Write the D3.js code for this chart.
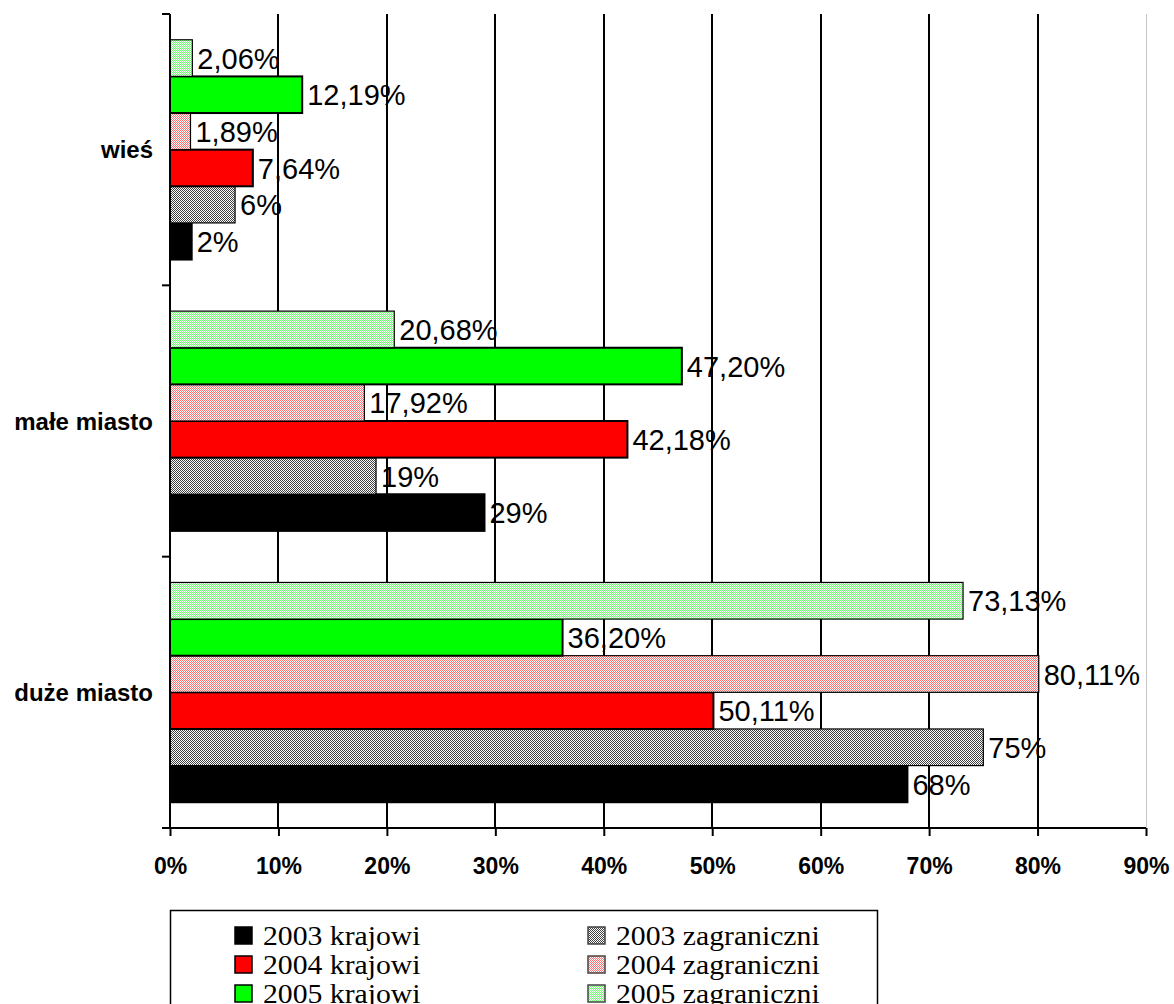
<!DOCTYPE html>
<html>
<head>
<meta charset="utf-8">
<script src="https://cdn.jsdelivr.net/npm/d3@7"></script>
<style>
  html, body { margin: 0; padding: 0; background: #fff; }
  svg { display: block; }
</style>
</head>
<body>
<svg id="chart" width="1174" height="1004"></svg>
<script>
const categories = ["wieś", "małe miasto", "duże miasto"];
const seriesNames = ["2003 krajowi", "2003 zagraniczni", "2004 krajowi", "2004 zagraniczni", "2005 krajowi", "2005 zagraniczni"];
const v2003krajowi = [2, 29, 68];
const v2003zagraniczni = [6, 19, 75];
const v2004krajowi = [7.64, 42.18, 50.11];
const v2004zagraniczni = [1.89, 17.92, 80.11];
const v2005krajowi = [12.19, 47.20, 36.20];
const v2005zagraniczni = [2.06, 20.68, 73.13];
const seriesValues = [v2003krajowi, v2003zagraniczni, v2004krajowi, v2004zagraniczni, v2005krajowi, v2005zagraniczni];
const seriesDecimals = [0, 0, 2, 2, 2, 2];
const xTicks = [0, 10, 20, 30, 40, 50, 60, 70, 80, 90];

(function () {
const svg = d3.select("#chart");
const defs = svg.append("defs");

const baseColors = ["#000000", "#000000", "#ff0000", "#ff0000", "#00ff00", "#00ff00"];
const patternInk = ["#000000", "#404040", "#ff0000", "#ff7070", "#00ff00", "#70ff70"];
const patterned = [false, true, false, true, false, true];

function makePattern(id, color) {
  const p = defs.append("pattern").attr("id", id).attr("patternUnits", "userSpaceOnUse")
    .attr("width", 2).attr("height", 2);
  p.append("rect").attr("width", 2).attr("height", 2).attr("fill", "#fff").attr("shape-rendering", "crispEdges");
  p.append("rect").attr("x", 0).attr("y", 0).attr("width", 1).attr("height", 1).attr("fill", color).attr("shape-rendering", "crispEdges");
  p.append("rect").attr("x", 1).attr("y", 1).attr("width", 1).attr("height", 1).attr("fill", color).attr("shape-rendering", "crispEdges");
}
seriesNames.forEach((s, i) => { if (patterned[i]) makePattern("pat" + i, patternInk[i]); });
const fillFor = i => patterned[i] ? `url(#pat${i})` : baseColors[i];

const pLeft = 170, pRight = 1146, pTop = 14, pBottom = 828;

const x = d3.scaleLinear().domain([0, 90]).range([pLeft, pRight]);
const y = d3.scaleBand().domain(categories).range([pTop, pBottom]).paddingInner(0.19).paddingOuter(0.095);
const inner = d3.scaleBand().domain(d3.range(seriesNames.length).reverse()).range([0, y.bandwidth()]);

// gridlines
svg.append("g").selectAll("line").data(xTicks.filter(t => t > 0)).join("line")
  .attr("x1", d => d === 90 ? Math.round(x(d)) + 0.5 : Math.round(x(d)))
  .attr("x2", d => d === 90 ? Math.round(x(d)) + 0.5 : Math.round(x(d)))
  .attr("y1", pTop).attr("y2", pBottom)
  .attr("stroke", d => d === 90 ? "#c8c8c8" : "#000")
  .attr("stroke-width", d => d === 90 ? 1 : 2);

// bars
const rows = [];
categories.forEach((c, ci) => {
  seriesNames.forEach((s, si) => {
    rows.push({ cat: c, si, v: seriesValues[si][ci] });
  });
});

svg.append("g").selectAll("rect").data(rows).join("rect")
  .attr("x", x(0))
  .attr("y", d => y(d.cat) + inner(d.si))
  .attr("width", d => x(d.v) - x(0))
  .attr("height", inner.bandwidth())
  .attr("fill", d => fillFor(d.si))
  .attr("stroke", "#000")
  .attr("stroke-width", d => patterned[d.si] ? 1.2 : 2);

// value labels
const fmt = (v, dec) => v.toFixed(dec).replace(".", ",") + "%";
svg.append("g").selectAll("text").data(rows).join("text")
  .attr("x", d => x(d.v) + 5)
  .attr("y", d => y(d.cat) + inner(d.si) + inner.bandwidth() / 2)
  .attr("dy", "0.37em")
  .attr("font-family", "Liberation Sans, Arial, sans-serif")
  .attr("font-size", 29)
  .attr("fill", "#000")
  .text(d => fmt(d.v, seriesDecimals[d.si]));

// y axis
svg.append("line").attr("x1", pLeft).attr("x2", pLeft).attr("y1", pTop).attr("y2", pBottom)
  .attr("stroke", "#000").attr("stroke-width", 2);
const yTickPos = [pTop].concat(categories.map(c => y(c) + y.bandwidth() + y.step() * y.paddingInner() / 2));
yTickPos[yTickPos.length - 1] = pBottom;
svg.append("g").selectAll("line").data(yTickPos).join("line")
  .attr("x1", pLeft - 8).attr("x2", pLeft).attr("y1", d => d).attr("y2", d => d)
  .attr("stroke", "#000").attr("stroke-width", 2);

svg.append("g").selectAll("text").data(categories).join("text")
  .attr("x", 153)
  .attr("y", d => y(d) + y.bandwidth() / 2)
  .attr("dy", "0.36em")
  .attr("text-anchor", "end")
  .attr("font-family", "Liberation Sans, Arial, sans-serif")
  .attr("font-weight", "bold")
  .attr("font-size", 24)
  .text(d => d);

// x axis
const xAxis = d3.axisBottom(x).tickValues(xTicks).tickSize(8).tickSizeOuter(0).tickFormat(d => d + "%");
const gx = svg.append("g").attr("transform", `translate(0,${pBottom})`).call(xAxis);
gx.select(".domain").attr("stroke", "#000").attr("stroke-width", 2).attr("d", `M${pLeft - 8},0H${pRight}`);
gx.selectAll(".tick line").attr("stroke", "#000").attr("stroke-width", 2);
gx.selectAll(".tick text")
  .attr("y", 46).attr("dy", 0)
  .attr("font-family", "Liberation Sans, Arial, sans-serif")
  .attr("font-weight", "bold")
  .attr("font-size", 23)
  .attr("fill", "#000");

// legend
const lg = svg.append("g");
lg.append("rect").attr("x", 170.5).attr("y", 910.5).attr("width", 707).attr("height", 120)
  .attr("fill", "#fff").attr("stroke", "#000").attr("stroke-width", 1.5);
const colX = [235, 588];
const rowY = [945, 974, 1003];
seriesNames.forEach((s, i) => {
  const col = i % 2, row = Math.floor(i / 2);
  lg.append("rect").attr("x", colX[col]).attr("y", rowY[row] - 18).attr("width", 17).attr("height", 17)
    .attr("fill", fillFor(i)).attr("stroke", patterned[i] ? "#444" : "#000").attr("stroke-width", 1.5);
  lg.append("text")
    .attr("transform", `translate(${colX[col] + 28},${rowY[row]}) scale(1.1,1)`)
    .attr("font-family", "Liberation Serif, Times New Roman, serif")
    .attr("font-size", 27)
    .attr("fill", "#000")
    .text(s);
});
})();
</script>
</body>
</html>
